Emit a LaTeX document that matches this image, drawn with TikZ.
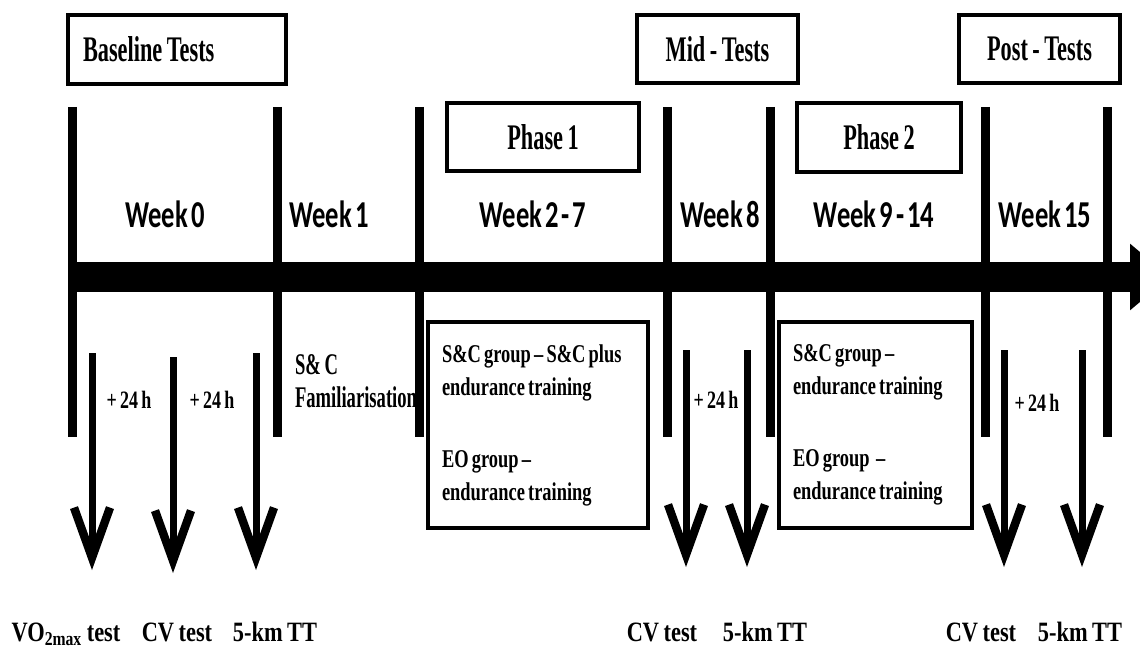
\documentclass[tikz,border=0pt]{standalone}
\usepackage{fontspec}
\usepackage{tikz}
\usetikzlibrary{arrows.meta,positioning}
\setmainfont{Liberation Serif}
\newfontfamily\narrowA[FakeStretch=0.62, WordSpace=0.8]{Liberation Serif}
\newfontfamily\narrowB[FakeStretch=0.72, WordSpace=0.7]{Liberation Serif}
\newfontfamily\narrowC[FakeStretch=0.8, WordSpace=0.8]{Liberation Serif}
\newfontfamily\weekfont[FakeStretch=0.7, WordSpace=0.5]{Carlito}
\newcommand{\natspace}{\spaceskip=\fontdimen2\font\relax}

\begin{document}
\begin{tikzpicture}[x=0.5pt, y=-0.5pt]
	\tikzstyle{testbox} = [rectangle, draw=black, line width=2pt, minimum height=34pt, 
	text centered, font=\narrowA\bfseries\fontsize{18pt}{20pt}\selectfont]
	\tikzstyle{groupbox} = [rectangle, draw=black, line width=2pt, minimum height=103pt, 
	inner xsep=7pt, align=left, font=\narrowB\bfseries\fontsize{12.8pt}{16.5pt}\selectfont]
	\tikzstyle{week} = [anchor=base, font=\weekfont\bfseries\fontsize{19pt}{21pt}\selectfont]
	\tikzstyle{gap} = [font=\narrowB\bfseries\fontsize{12.5pt}{14pt}\selectfont]
	\tikzstyle{testlabel} = [anchor=base, font=\narrowC\bfseries\fontsize{14pt}{16pt}\selectfont]
	\tikzstyle{bar} = [line width=4.5pt]
	\tikzstyle{timeline} = [line width=15pt, -{Triangle[length=20pt, width=32pt]}]
	\tikzstyle{arrow} = [line width=3.5pt, -{Straight Barb[length=25pt, width=18pt, line width=4.2pt]}]
	\useasboundingbox (0,0) rectangle (1140,652);
	% test and phase boxes
	\node (baseline) [testbox, text width=94pt, inner xsep=7.5pt, align=left, minimum height=34.5pt] at (177,49.5) {\natspace Baseline Tests};
	\node (midTests) [testbox, minimum width=80.5pt] at (717.5,49) {Mid - Tests};
	\node (postTests) [testbox, minimum width=80.5pt] at (1039.5,49) {Post - Tests};
	\node (phase1) [testbox, minimum width=96pt] at (543,137) {Phase 1};
	\node (phase2) [testbox, minimum width=82pt, minimum height=34.5pt] at (879,137.5) {Phase 2};
	% weeks
	\node (week0) [week] at (165,228) {Week 0};
	\node (week1) [week] at (329,228) {Week 1};
	\node (week2) [week] at (533,228) {Week 2 - 7};
	\node (week8) [week] at (720,228) {Week 8};
	\node (week9) [week] at (874,228) {Week 9 - 14};
	\node (week15) [week] at (1045,228) {Week 15};
	% time line
	\coordinate (tlStart) at (72,277);
	\coordinate (tlEnd) at (1170,277);
	\draw [timeline] (tlStart) -- (tlEnd);
	\draw [bar] (72,107) -- (72,437);
	\draw [bar] (277,107) -- (277,437);
	\draw [bar] (419,107) -- (419,437);
	\draw [bar] (667,107) -- (667,437);
	\draw [bar] (770,107) -- (770,437);
	\draw [bar] (985,107) -- (985,437);
	\draw [bar] (1107,107) -- (1107,437);
	% training
	\node (familiar) [anchor=west, align=left, font=\narrowA\bfseries\fontsize{15pt}{16.5pt}\selectfont] at (288,381.5) {\natspace S\& C\\Familiarisation};
	\node (group1) [groupbox, text width=96pt] at (538,425) {\natspace S\&C group – S\&C plus\\endurance training\\[19.5pt]EO group –\\endurance training};
	\node (group2) [groupbox, text width=82.5pt] at (875.5,425) {\natspace S\&C group –\\endurance training\\[19.5pt]EO group \ –\\endurance training};
	\node (gapA) [gap] at (129,400) {+ 24 h};
	\node (gapB) [gap] at (212,400) {+ 24 h};
	\node (gapC) [gap] at (716,400) {+ 24 h};
	\node (gapD) [gap] at (1037,403) {+ 24 h};
	% tests
	\node (vo2Test) [testlabel] at (66,641) {VO\textsubscript{2max} test};
	\node (cvTest1) [testlabel] at (177,641) {CV test};
	\node (ttTest1) [testlabel] at (275,641) {5-km TT};
	\node (cvTest2) [testlabel] at (662,641) {CV test};
	\node (ttTest2) [testlabel] at (765,641) {5-km TT};
	\node (cvTest3) [testlabel] at (981,641) {CV test};
	\node (ttTest3) [testlabel] at (1080,641) {5-km TT};
	\coordinate (vo2Top) at (92,353);
	\coordinate (vo2Tip) at (92,570);
	\coordinate (cv1Top) at (173,357);
	\coordinate (cv1Tip) at (173,573);
	\coordinate (tt1Top) at (256,353);
	\coordinate (tt1Tip) at (256,570);
	\coordinate (cv2Top) at (686,350);
	\coordinate (cv2Tip) at (686,567);
	\coordinate (tt2Top) at (747,350);
	\coordinate (tt2Tip) at (747,567);
	\coordinate (cv3Top) at (1004,350);
	\coordinate (cv3Tip) at (1004,567);
	\coordinate (tt3Top) at (1082,350);
	\coordinate (tt3Tip) at (1082,567);
	\draw [arrow] (vo2Top) -- (vo2Tip);
	\draw [arrow] (cv1Top) -- (cv1Tip);
	\draw [arrow] (tt1Top) -- (tt1Tip);
	\draw [arrow] (cv2Top) -- (cv2Tip);
	\draw [arrow] (tt2Top) -- (tt2Tip);
	\draw [arrow] (cv3Top) -- (cv3Tip);
	\draw [arrow] (tt3Top) -- (tt3Tip);
\end{tikzpicture}
\end{document}
